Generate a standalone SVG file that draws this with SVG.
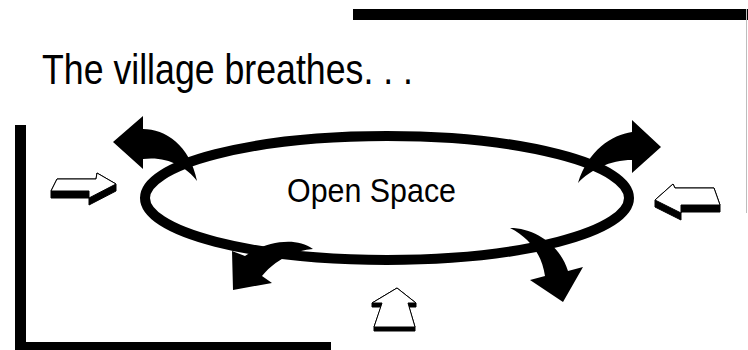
<svg xmlns="http://www.w3.org/2000/svg" width="748" height="350" viewBox="0 0 748 350">
  <style>
    .bar { fill: #000; }
    .curl { fill: #000; stroke: none; }
    .side { fill: #000; stroke: #000; stroke-width: 1; stroke-linejoin: miter; }
    .face { fill: #fff; stroke: #000; stroke-width: 1; stroke-linejoin: miter; }
    .txt { font-family: "Liberation Sans", Arial, sans-serif; fill: #000; }
  </style>
  <rect width="748" height="350" fill="#fff"/>

  <g id="frame">
    <rect class="bar" x="353" y="9" width="400" height="11"/>
    <line x1="746.5" y1="9" x2="746.5" y2="213" stroke="#bdbdbd" stroke-width="1"/>
    <rect class="bar" x="15" y="125" width="11" height="230"/>
    <rect class="bar" x="15" y="342" width="316" height="12"/>
  </g>

  <g id="title">
    <text class="txt" x="42" y="83.5" font-size="43" textLength="371" lengthAdjust="spacingAndGlyphs">The village breathes. . .</text>
  </g>

  <g id="open-space">
    <ellipse cx="387" cy="198" rx="242" ry="62" fill="none" stroke="#000" stroke-width="10"/>
    <text class="txt" x="287" y="201.5" font-size="33.5" textLength="169" lengthAdjust="spacingAndGlyphs">Open Space</text>
  </g>

  <g id="connectors">
    <path id="out-top-left" class="curl" d="M 113,142 L 143,116 L 143,129 C 165,129 190,145 197,181 C 186,166 166,156 143,159 L 143,169 Z"/>
    <path id="out-top-right" class="curl" d="M 661,147 L 632,120 L 632,132 C 612,135 588,150 578,183 C 590,170 610,160 632,160 L 632,173 Z"/>
    <path id="out-bottom-right" class="curl" d="M 563,302 L 530,280 L 545,276 C 542,255 530,238 510,228 C 535,228 560,245 568,271 L 583,267 Z"/>
    <path id="out-bottom-left" class="curl" d="M 233,290 L 232,251 L 245,256 C 265,242 295,236 313,249 C 295,250 275,260 262,276 L 272,283 Z"/>
  </g>

  <g id="in-left">
    <polygon class="side" points="51,191 57,179 96,179 97,173 116,184 116,191 89,205 89,198 51,198"/>
    <polygon class="face" points="51,191 57,179 96,179 97,173 116,184 89,198 89,191"/>
  </g>

  <g id="in-right">
    <polygon class="side" points="655,200 673,184 675,188 714,188 720,205 720,212 681,212 681,220 655,207"/>
    <polygon class="face" points="655,200 673,184 675,188 714,188 720,205 681,205 681,213"/>
  </g>

  <g id="in-bottom">
    <polygon class="side" points="397,288 416,303 416,307 409,307 415,327 415,331 374,331 374,327 381,307 372,307 372,303"/>
    <polygon class="face" points="397,288 416,303 408,303 415,327 374,327 382,303 372,303"/>
  </g>
</svg>
